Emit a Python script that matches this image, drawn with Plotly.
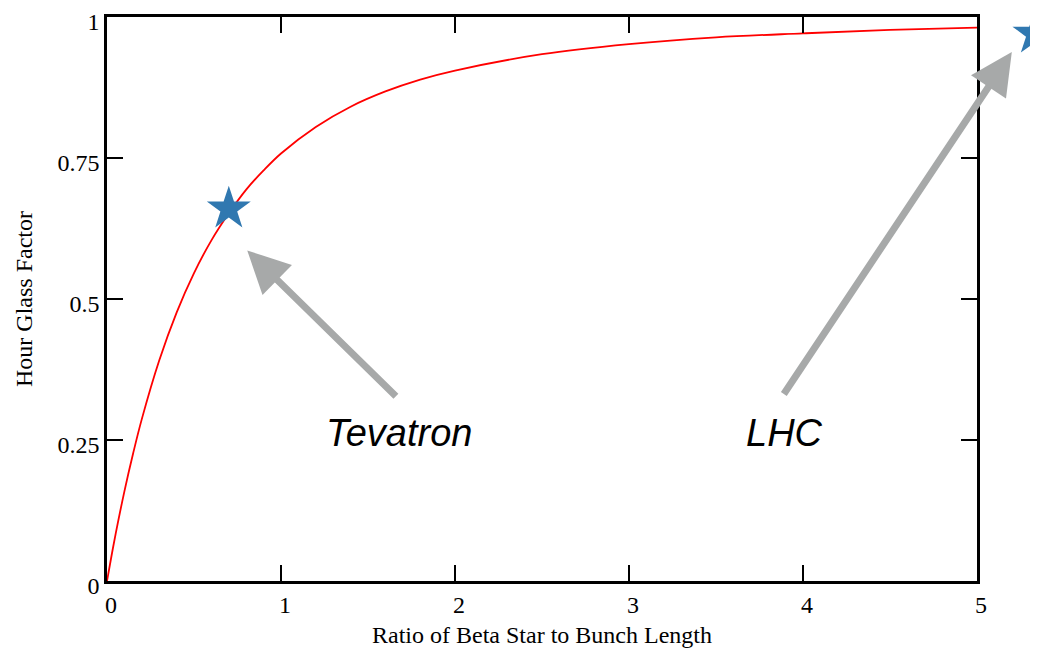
import plotly.graph_objects as go

# Hour glass factor curve
ratio = [0, 0.025, 0.05, 0.1, 0.15, 0.2, 0.3, 0.4, 0.5, 0.6, 0.7, 0.8, 0.9, 1.0,
         1.2, 1.4, 1.6, 1.8, 2.0, 2.5, 3.0, 3.5, 4.0, 4.5, 5.0]
factor = [0, 0.043, 0.084, 0.159, 0.226, 0.287, 0.391, 0.476, 0.546, 0.604, 0.652,
          0.694, 0.728, 0.758, 0.805, 0.841, 0.868, 0.889, 0.905, 0.934, 0.952,
          0.964, 0.971, 0.977, 0.981]

# Machines (stars)
machines = ["Tevatron", "LHC"]
machine_x = [0.7, 5.33]
machine_y = [0.66, 0.97]

# Annotation placement (label position, arrow tail, arrow head)
label_x = [1.68, 3.895]
label_y = [0.262, 0.262]
tail_x = [1.669, 3.884]
tail_y = [0.325, 0.329]
head_x = [0.806, 5.20]
head_y = [0.586, 0.938]

xticks = [0, 1, 2, 3, 4, 5]
yticks = [0, 0.25, 0.5, 0.75, 1]
ytick_text = ["0", "0.25", "0.5", "0.75", "1"]

# layout geometry (page body adds an 8px offset)
FIG_W, FIG_H = 1030, 642
M_L, M_T, M_B = 99, 9, 69
AXIS_W = 870                      # pixel width of the framed axis box
AREA_W = FIG_W - M_L              # full width available to the right of the left margin
X_MAX = 5
dom_end = AXIS_W / AREA_W
x2_max = X_MAX * AREA_W / AXIS_W  # wider twin axis so stars beyond x=5 can still be drawn

fig = go.Figure()
fig.add_trace(go.Scatter(x=ratio, y=factor, mode="lines", line=dict(color="#ff0000", width=1.8, shape="spline"),
                         showlegend=False, hoverinfo="skip", xaxis="x", yaxis="y"))
fig.add_trace(go.Scatter(x=machine_x, y=machine_y, mode="markers",
                         marker=dict(symbol="star", size=33, color="#3078b0", line=dict(width=0)),
                         cliponaxis=False, showlegend=False, text=machines, xaxis="x2", yaxis="y2"))

for i, name in enumerate(machines):
    fig.add_annotation(x=head_x[i], y=head_y[i], ax=tail_x[i], ay=tail_y[i], axref="x", ayref="y",
                       xref="x", yref="y", showarrow=True, arrowhead=2, arrowsize=1.2, arrowwidth=7,
                       arrowcolor="#a7a9a9", text="")
    fig.add_annotation(x=label_x[i], y=label_y[i], xref="x", yref="y", text=name, showarrow=False,
                       font=dict(family="Liberation Sans, Arial", size=38, color="#000000", style="italic"),
                       xanchor="center", yanchor="middle")

serif = "Liberation Serif, Times New Roman"
axis_common = dict(showgrid=False, zeroline=False, showline=True, linecolor="black", linewidth=2.5,
                   mirror="ticks", ticks="inside", ticklen=16, tickwidth=2, tickcolor="black",
                   automargin=False, ticklabeloverflow="allow",
                   tickfont=dict(family=serif, size=24, color="black"))

fig.update_layout(
    xaxis=dict(range=[0, X_MAX], domain=[0, dom_end], tickvals=xticks, ticktext=[str(t) for t in xticks],
               ticklabelshift=4,
               title=dict(text="Ratio of Beta Star to Bunch Length", standoff=10,
                          font=dict(family=serif, size=24, color="black")),
               anchor="y", **axis_common),
    yaxis=dict(range=[0, 1], domain=[0, 1], tickvals=yticks, ticktext=ytick_text,
               ticklabelshift=5,
               title=dict(text="Hour Glass Factor", standoff=19,
                          font=dict(family=serif, size=24, color="black")),
               anchor="x", **axis_common),
    xaxis2=dict(range=[0, x2_max], domain=[0, 1], anchor="y2", visible=False, fixedrange=True),
    yaxis2=dict(range=[0, 1], domain=[0, 1], anchor="x2", visible=False, fixedrange=True),
    width=FIG_W, height=FIG_H, margin=dict(l=M_L, r=0, t=M_T, b=M_B),
    plot_bgcolor="rgba(0,0,0,0)", paper_bgcolor="white",
)

fig.write_html("out.html")
